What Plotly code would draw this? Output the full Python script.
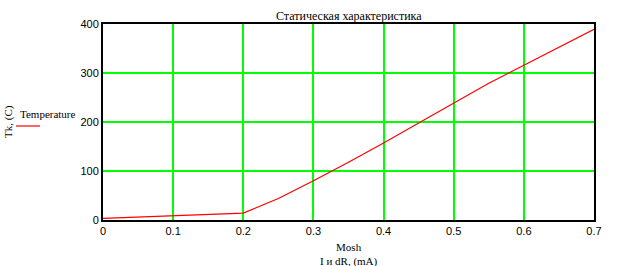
import plotly.graph_objects as go

current_ma = [0.0, 0.05, 0.1, 0.15, 0.2, 0.25, 0.3, 0.35, 0.4, 0.45, 0.5, 0.55, 0.6, 0.65, 0.7]
temperature_c = [3.5, 6, 8.5, 11, 14, 44, 80, 118, 157, 198, 239, 279, 316, 353, 389]

x_ticks = [0, 0.1, 0.2, 0.3, 0.4, 0.5, 0.6, 0.7]
x_tick_text = ["0", "0.1", "0.2", "0.3", "0.4", "0.5", "0.6", "0.7"]
y_ticks = [0, 100, 200, 300, 400]

title_text = "Статическая характеристика"
x_title = "Mosh<br>I и dR, (mA)"
y_title = "Tk, (C)"
legend_name = "Temperature"

serif = "Liberation Serif"
sans = "Liberation Sans"
grid_green = "#00FF00"

fig = go.Figure()
fig.add_trace(go.Scatter(x=current_ma, y=temperature_c, mode="lines",
                         line=dict(color="#ff0000", width=1.2),
                         name=legend_name, showlegend=False, hoverinfo="skip"))

axis_common = dict(showline=True, linecolor="black", linewidth=2, mirror=True,
                   showgrid=True, gridcolor=grid_green, gridwidth=2,
                   zeroline=False, ticks="", tickfont=dict(family=sans, size=11, color="black"))

fig.update_xaxes(range=[0, 0.7], tickvals=x_ticks, ticktext=x_tick_text, **axis_common)
fig.update_yaxes(range=[0, 400], tickvals=y_ticks, **axis_common)

fig.update_layout(
    template="none",
    width=618, height=266,
    margin=dict(l=103, r=24, t=24, b=46),
    paper_bgcolor="white", plot_bgcolor="white",
    showlegend=False,
)

fig.add_annotation(text=title_text, xref="paper", yref="paper", x=0.5, y=1,
                   yshift=8, xanchor="center", yanchor="middle", showarrow=False,
                   font=dict(family=serif, size=12, color="black"))
fig.add_annotation(text=x_title, xref="paper", yref="paper", x=0.5, y=0,
                   yshift=-34, xanchor="center", yanchor="middle", showarrow=False,
                   font=dict(family=serif, size=11, color="black"))
fig.add_annotation(text=y_title, xref="paper", yref="paper", x=0, y=0.5,
                   xshift=-95, xanchor="center", yanchor="middle", textangle=-90,
                   showarrow=False, font=dict(family=serif, size=11, color="black"))
fig.add_annotation(text=legend_name, xref="paper", yref="paper", x=0, y=0.5,
                   xshift=-85, yshift=8, xanchor="left", yanchor="middle",
                   showarrow=False, font=dict(family=serif, size=11, color="black"))
fig.add_shape(type="line", xref="paper", yref="paper",
              x0=-87 / 491, x1=-63 / 491, y0=(220 - 126) / 196, y1=(220 - 126) / 196,
              line=dict(color="#ff0000", width=1.2))

fig.write_html("out.html")
